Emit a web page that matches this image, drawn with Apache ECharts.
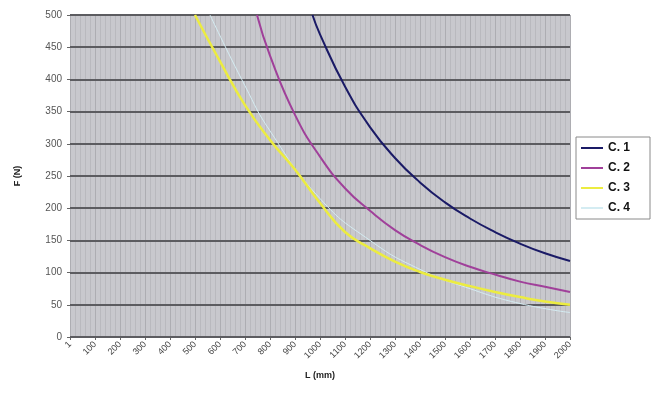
<!DOCTYPE html>
<html>
<head>
<meta charset="utf-8">
<script src="https://cdn.jsdelivr.net/npm/echarts@6/dist/echarts.min.js"></script>
<style>
html,body{margin:0;padding:0;background:#fff;}
#chart{width:664px;height:406px;}
</style>
</head>
<body>
<div id="chart"></div>
<script>
// Values (L in mm, F in N)
var seriesNames = ["C. 1", "C. 2", "C. 3", "C. 4"];
var c1L = [970, 1000, 1100, 1200, 1300, 1400, 1500, 1600, 1700, 1800, 1900, 2000];
var c1F = [500, 470, 389, 326, 278, 240, 209, 184, 163, 145, 130, 118];
var c2L = [748, 800, 900, 1000, 1100, 1200, 1300, 1400, 1500, 1600, 1700, 1800, 1900, 2000];
var c2F = [500, 437, 345, 280, 231, 196, 166, 143, 124, 109, 97, 86, 78, 70];
var c3L = [500, 600, 700, 800, 900, 1000, 1100, 1200, 1300, 1400, 1500, 1600, 1700, 1800, 1900, 2000];
var c3F = [500, 428, 360, 306, 260, 208, 163, 138, 117, 101, 89, 79, 70, 62, 55, 50];
var c4L = [560, 700, 800, 1000, 1200, 1400, 1600, 1800, 2000];
var c4F = [500, 390, 320, 215, 150, 105, 75, 52, 38];
var xTicks = [1, 100, 200, 300, 400, 500, 600, 700, 800, 900, 1000, 1100, 1200, 1300, 1400, 1500, 1600, 1700, 1800, 1900, 2000];
var yTicks = [0, 50, 100, 150, 200, 250, 300, 350, 400, 450, 500];
var colors = ["#1a1a66", "#a0409a", "#ecec40", "#d4ecf2"];
var widths = [2, 2, 2.5, 1];

function pairs(xs, ys) { return xs.map(function (x, i) { return [x, ys[i]]; }); }
var allData = [pairs(c1L, c1F), pairs(c2L, c2F), pairs(c3L, c3F), pairs(c4L, c4F)];

var chart = echarts.init(document.getElementById('chart'), null, {renderer: 'canvas'});
var font = 'Liberation Sans, Arial, sans-serif';
chart.setOption({
  backgroundColor: '#ffffff',
  animation: false,
  grid: {left: 70, right: 94, top: 15, bottom: 69, show: true, backgroundColor: '#c8c8cd', borderWidth: 0},
  legend: {
    orient: 'vertical', left: 576, top: 137,
    data: seriesNames,
    backgroundColor: '#ffffff', borderColor: '#8a8a8a', borderWidth: 1,
    padding: [5, 20, 5, 5], itemGap: 8, itemWidth: 22, itemHeight: 12,
    icon: 'path://M0,5 L22,5 L22,7 L0,7 Z',
    textStyle: {fontFamily: font, fontSize: 12, fontWeight: 'bold', color: '#111'}
  },
  xAxis: {
    type: 'value', min: 0, max: 2000, interval: 100, z: 0,
    name: 'L (mm)', nameLocation: 'middle', nameGap: 34,
    nameTextStyle: {fontFamily: font, fontSize: 9, fontWeight: 'bold', color: '#222'},
    axisLine: {show: true, lineStyle: {color: '#666', width: 1}},
    axisTick: {show: true, length: 3, lineStyle: {color: '#666'}},
    axisLabel: {
      rotate: 45, fontFamily: font, fontSize: 9, color: '#444', margin: 6,
      formatter: function (v) { var i = Math.round(v / 100); return xTicks[i] !== undefined ? String(xTicks[i]) : ''; }
    },
    splitLine: {show: true, lineStyle: {color: '#adadb2', width: 1}},
    minorTick: {show: false, splitNumber: 5},
    minorSplitLine: {show: true, lineStyle: {color: '#b9b9be', width: 1}}
  },
  yAxis: {
    type: 'value', min: 0, max: 500, interval: 50, z: 3,
    name: 'F (N)', nameLocation: 'middle', nameGap: 48, nameRotate: 90,
    nameTextStyle: {fontFamily: font, fontSize: 9, fontWeight: 'bold', color: '#222'},
    axisLine: {show: false},
    axisTick: {show: true, length: 3, lineStyle: {color: '#666'}},
    axisLabel: {fontFamily: font, fontSize: 10, color: '#555', margin: 8,
      formatter: function (v) { return yTicks.indexOf(v) >= 0 ? String(v) : ''; }},
    splitLine: {show: true, lineStyle: {color: '#5c5c60', width: 2}}
  },
  series: allData.map(function (d, i) {
    return {
      name: seriesNames[i], type: 'line', data: d, smooth: true,
      showSymbol: false, symbol: 'none', clip: true,
      lineStyle: {color: colors[i], width: widths[i]},
      itemStyle: {color: colors[i]},
      z: 10 - i
    };
  })
});
</script>
</body>
</html>
